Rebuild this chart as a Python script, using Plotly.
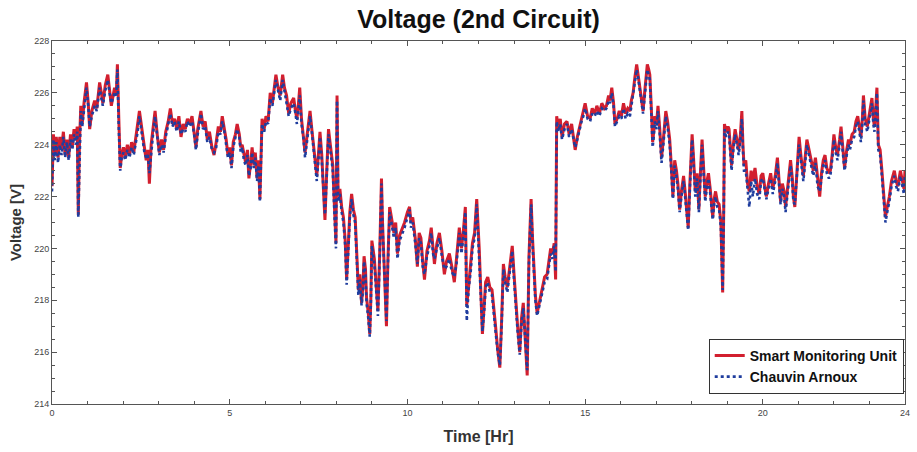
import plotly.graph_objects as go

hours = [
    0.00, 0.04, 0.08, 0.12, 0.17, 0.22, 0.27, 0.32, 0.37, 0.42,
    0.47, 0.52, 0.57, 0.62, 0.67, 0.71, 0.74, 0.77, 0.81, 0.85,
    0.90, 0.97, 1.02, 1.06, 1.12, 1.20, 1.26, 1.34, 1.40, 1.43,
    1.50, 1.57, 1.62, 1.67, 1.72, 1.76, 1.81, 1.84, 1.88, 1.92,
    1.96, 2.01, 2.06, 2.12, 2.18, 2.24, 2.30, 2.36, 2.41, 2.46,
    2.51, 2.55, 2.60, 2.65, 2.70, 2.74, 2.79, 2.85, 2.90, 2.96,
    3.02, 3.08, 3.14, 3.20, 3.27, 3.33, 3.39, 3.45, 3.51, 3.57,
    3.63, 3.69, 3.75, 3.81, 3.87, 3.94, 4.00, 4.05, 4.10, 4.15,
    4.19, 4.25, 4.31, 4.37, 4.43, 4.50, 4.56, 4.62, 4.68, 4.74,
    4.79, 4.85, 4.90, 4.95, 5.00, 5.05, 5.10, 5.16, 5.21, 5.27,
    5.31, 5.35, 5.40, 5.45, 5.50, 5.54, 5.59, 5.63, 5.68, 5.72,
    5.77, 5.81, 5.85, 5.88, 5.91, 5.97, 6.02, 6.08, 6.14, 6.20,
    6.25, 6.30, 6.36, 6.42, 6.49, 6.54, 6.60, 6.66, 6.72, 6.80,
    6.85, 6.89, 6.93, 6.97, 7.02, 7.07, 7.12, 7.18, 7.22, 7.26,
    7.31, 7.36, 7.41, 7.45, 7.50, 7.54, 7.59, 7.64, 7.68, 7.73,
    7.78, 7.84, 7.90, 7.95, 7.99, 8.02, 8.05, 8.10, 8.15, 8.20,
    8.25, 8.29, 8.34, 8.38, 8.43, 8.48, 8.53, 8.58, 8.62, 8.66,
    8.71, 8.75, 8.78, 8.82, 8.85, 8.90, 8.94, 8.97, 9.00, 9.04,
    9.07, 9.12, 9.17, 9.22, 9.27, 9.30, 9.33, 9.37, 9.41, 9.45,
    9.50, 9.55, 9.62, 9.67, 9.72, 9.78, 9.86, 9.92, 10.00, 10.06,
    10.10, 10.15, 10.22, 10.28, 10.33, 10.38, 10.43, 10.48, 10.55, 10.62,
    10.67, 10.72, 10.76, 10.83, 10.90, 10.97, 11.04, 11.10, 11.18, 11.25,
    11.32, 11.38, 11.46, 11.52, 11.57, 11.63, 11.67, 11.72, 11.78, 11.83,
    11.89, 11.95, 12.02, 12.07, 12.11, 12.16, 12.20, 12.26, 12.32, 12.38,
    12.43, 12.48, 12.54, 12.60, 12.65, 12.70, 12.75, 12.81, 12.88, 12.95,
    13.00, 13.04, 13.10, 13.16, 13.21, 13.26, 13.31, 13.37, 13.42, 13.48,
    13.52, 13.55, 13.60, 13.65, 13.72, 13.79, 13.86, 13.93, 13.98, 14.03,
    14.08, 14.13, 14.17, 14.20, 14.25, 14.30, 14.35, 14.42, 14.49, 14.55,
    14.62, 14.68, 14.72, 14.78, 14.84, 14.90, 14.95, 15.00, 15.07, 15.14,
    15.20, 15.27, 15.33, 15.40, 15.47, 15.54, 15.60, 15.66, 15.70, 15.75,
    15.80, 15.84, 15.90, 15.96, 16.02, 16.08, 16.14, 16.20, 16.26, 16.30,
    16.35, 16.40, 16.45, 16.50, 16.54, 16.59, 16.63, 16.68, 16.72, 16.75,
    16.79, 16.82, 16.86, 16.90, 16.93, 16.96, 17.01, 17.05, 17.10, 17.15,
    17.20, 17.23, 17.27, 17.32, 17.38, 17.42, 17.47, 17.52, 17.57, 17.61,
    17.66, 17.71, 17.77, 17.82, 17.86, 17.90, 17.95, 18.01, 18.05, 18.10,
    18.15, 18.20, 18.24, 18.29, 18.33, 18.38, 18.43, 18.47, 18.52, 18.59,
    18.63, 18.67, 18.72, 18.77, 18.82, 18.87, 18.90, 18.92, 18.97, 19.02,
    19.05, 19.10, 19.12, 19.17, 19.22, 19.27, 19.32, 19.37, 19.41, 19.44,
    19.47, 19.52, 19.57, 19.62, 19.67, 19.72, 19.78, 19.84, 19.90, 19.95,
    20.00, 20.05, 20.10, 20.16, 20.22, 20.28, 20.35, 20.41, 20.45, 20.50,
    20.55, 20.60, 20.64, 20.70, 20.74, 20.78, 20.83, 20.86, 20.90, 20.95,
    21.00, 21.02, 21.07, 21.14, 21.19, 21.24, 21.30, 21.36, 21.42, 21.48,
    21.54, 21.60, 21.65, 21.70, 21.75, 21.80, 21.86, 21.90, 21.95, 22.00,
    22.05, 22.10, 22.16, 22.20, 22.25, 22.30, 22.36, 22.41, 22.45, 22.51,
    22.57, 22.62, 22.67, 22.72, 22.76, 22.80, 22.83, 22.88, 22.94, 23.00,
    23.07, 23.11, 23.14, 23.18, 23.21, 23.25, 23.30, 23.35, 23.40, 23.45,
    23.50, 23.56, 23.62, 23.70, 23.75, 23.80, 23.87, 23.92, 23.97, 24.00,
]

smart_unit_v = [
    222.4, 224.4, 223.6, 224.3, 223.5, 224.3, 223.8, 224.5, 223.6, 224.2,
    223.5, 224.4, 223.9, 224.6, 224.2, 224.7, 221.3, 223.9, 225.5, 224.8,
    225.6, 226.4, 225.6, 224.6, 225.3, 225.7, 225.4, 226.4, 225.9, 225.6,
    226.3, 226.7, 226.1, 225.5, 225.9, 226.2, 226.0, 227.1, 225.0, 223.1,
    223.6, 223.9, 223.5, 224.0, 223.6, 224.1, 223.7, 224.3, 224.6, 225.3,
    224.8, 224.4, 223.9, 223.4, 223.8, 222.5, 224.0, 224.6, 225.3, 224.4,
    223.7, 224.2, 223.8, 224.5, 224.9, 225.4, 224.8, 225.0, 224.6, 225.1,
    224.3, 224.8, 224.6, 225.0, 224.8, 225.1, 224.5, 223.9, 224.6, 225.0,
    225.3, 224.7, 224.9, 224.2, 224.5, 223.9, 223.6, 224.1, 224.7, 224.5,
    225.1, 224.6, 224.2, 223.6, 223.9, 223.2, 224.1, 224.4, 224.8, 224.4,
    223.9, 224.0, 223.6, 223.3, 223.8, 222.7, 223.3, 223.9, 223.2, 223.7,
    222.7, 223.4, 221.9, 223.6, 225.0, 224.6, 225.1, 224.9, 226.0, 225.6,
    226.2, 226.7, 226.2, 225.9, 226.7, 226.2, 225.9, 225.2, 225.6, 225.8,
    225.3, 225.0, 225.5, 226.2, 225.0, 224.4, 223.7, 224.4, 224.9, 225.3,
    224.6, 224.0, 223.4, 222.8, 223.7, 224.5, 223.6, 222.4, 221.1, 223.0,
    224.6, 223.9, 223.2, 221.5, 220.2, 225.9, 222.0, 222.3, 221.6, 221.2,
    220.3, 218.8, 220.5, 221.4, 222.1, 221.5, 221.2, 219.6, 218.4, 219.0,
    217.9, 218.6, 219.7, 219.2, 218.1, 217.5, 216.7, 218.0, 220.3, 219.9,
    219.6, 218.6, 217.6, 219.8, 222.7, 221.0, 220.0, 218.5, 217.0, 219.5,
    221.6, 221.2, 220.6, 221.0, 219.8, 220.5, 220.8, 221.0, 221.4, 221.6,
    221.0, 221.2, 220.4, 219.3, 220.6, 220.4, 219.5, 218.8, 219.9, 220.3,
    220.8, 220.0, 219.4, 220.2, 220.6, 219.9, 219.0, 219.5, 219.8, 219.3,
    218.7, 219.6, 220.8, 220.0, 220.6, 221.6, 217.8, 218.5, 219.3, 220.2,
    220.6, 221.9, 220.0, 218.2, 216.7, 217.8, 218.7, 218.9, 218.5, 218.4,
    217.8, 217.0, 216.1, 215.4, 217.2, 219.4, 218.9, 218.5, 219.3, 220.1,
    219.0, 218.1, 217.0, 216.0, 217.3, 217.9, 216.8, 215.1, 219.7, 221.9,
    220.4, 219.3, 218.2, 217.5, 218.0, 218.5, 218.9, 219.0, 219.6, 220.0,
    219.8, 220.2, 218.8, 225.1, 224.6, 225.0, 224.3, 224.8, 224.9, 224.4,
    224.8, 224.2, 223.8, 224.3, 224.7, 225.0, 225.3, 225.6, 225.1, 225.0,
    225.4, 225.2, 225.5, 225.2, 225.6, 225.4, 225.5, 225.9, 225.7, 226.2,
    225.6, 224.8, 225.0, 225.3, 225.1, 225.6, 225.2, 225.4, 225.3, 225.7,
    226.0, 226.6, 227.1, 226.6, 226.2, 225.8, 225.3, 226.1, 226.8, 227.1,
    226.9, 226.7, 225.5, 224.1, 224.5, 225.1, 224.8, 225.5, 224.6, 223.5,
    224.2, 224.8, 225.3, 224.9, 224.2, 223.3, 222.0, 223.4, 223.0, 222.5,
    221.5, 222.2, 222.8, 222.1, 221.4, 220.8, 222.6, 224.4, 223.5, 222.2,
    222.9, 221.5, 222.8, 224.2, 223.2, 222.0, 222.6, 222.9, 222.3, 221.2,
    221.9, 222.2, 221.8, 221.7, 221.0, 218.3, 221.5, 224.8, 224.5, 224.7,
    224.6, 223.6, 223.2, 224.0, 224.6, 224.2, 223.8, 224.4, 225.3, 224.0,
    223.2, 223.4, 222.5, 222.2, 223.0, 222.6, 223.1, 222.4, 222.1, 222.8,
    222.9, 222.4, 222.0, 222.5, 222.9, 222.3, 222.8, 223.5, 222.6, 221.8,
    222.5, 222.2, 221.6, 222.4, 222.8, 223.4, 222.7, 222.0, 221.6, 222.8,
    223.5, 224.3, 223.6, 222.8, 223.5, 224.2, 223.8, 223.4, 223.0, 223.5,
    222.6, 222.0, 222.9, 223.4, 223.6, 223.1, 222.9, 223.0, 223.6, 224.4,
    223.9, 223.6, 224.2, 224.7, 223.9, 223.1, 223.8, 224.2, 224.0, 224.4,
    224.5, 224.9, 225.1, 224.6, 224.3, 225.0, 225.9, 225.0, 224.7, 225.2,
    225.8, 225.0, 224.7, 225.5, 226.2, 224.0, 223.8, 223.0, 222.2, 221.2,
    221.6, 222.0, 222.6, 223.0, 222.6, 222.4, 223.0, 222.7, 222.3, 223.0,
]

chauvin_v = [
    222.2, 224.2, 223.4, 224.1, 223.3, 224.0, 223.6, 224.3, 223.5, 224.1,
    223.4, 224.2, 223.8, 224.4, 224.0, 224.5, 221.2, 223.7, 225.3, 224.7,
    225.4, 226.2, 225.5, 224.7, 225.1, 225.5, 225.3, 226.2, 225.7, 225.5,
    226.1, 226.5, 226.0, 225.6, 225.8, 226.0, 225.9, 226.9, 224.6, 223.0,
    223.5, 223.7, 223.4, 223.8, 223.5, 223.9, 223.6, 224.1, 224.5, 225.1,
    224.6, 224.3, 223.7, 223.5, 223.6, 222.9, 223.8, 224.5, 225.1, 224.3,
    223.6, 224.0, 223.7, 224.3, 224.8, 225.2, 224.7, 224.9, 224.5, 224.9,
    224.4, 224.6, 224.5, 224.9, 224.7, 224.9, 224.4, 223.8, 224.4, 224.8,
    225.2, 224.6, 224.7, 224.1, 224.3, 223.8, 223.7, 223.9, 224.5, 224.4,
    224.9, 224.5, 224.0, 223.5, 223.7, 223.1, 223.9, 224.3, 224.6, 224.3,
    223.7, 223.9, 223.4, 223.2, 223.6, 222.8, 223.1, 223.7, 223.1, 223.5,
    222.6, 223.2, 221.8, 223.4, 224.8, 224.5, 224.9, 224.8, 225.8, 225.5,
    226.0, 226.5, 226.1, 225.7, 226.5, 226.1, 225.7, 225.1, 225.4, 225.6,
    225.2, 224.8, 225.3, 225.9, 224.8, 224.3, 223.5, 224.2, 224.7, 225.1,
    224.5, 223.8, 223.2, 222.6, 223.5, 224.3, 223.4, 222.2, 221.3, 222.8,
    224.4, 223.7, 223.0, 221.2, 220.0, 225.7, 221.8, 222.1, 221.4, 221.0,
    220.1, 218.6, 220.3, 221.2, 221.9, 221.3, 221.0, 219.4, 218.2, 218.8,
    217.8, 218.4, 219.5, 219.0, 217.9, 217.3, 216.6, 217.8, 220.1, 219.7,
    219.4, 218.4, 217.4, 219.6, 222.5, 220.8, 219.8, 218.3, 217.2, 219.3,
    221.4, 221.0, 220.4, 220.8, 219.6, 220.3, 220.6, 220.8, 221.2, 221.5,
    220.8, 221.0, 220.2, 219.4, 220.4, 220.2, 219.3, 219.0, 219.7, 220.1,
    220.6, 219.8, 219.6, 220.0, 220.4, 219.7, 219.2, 219.3, 219.6, 219.1,
    218.9, 219.4, 220.6, 219.8, 220.4, 221.4, 217.2, 218.4, 219.1, 220.0,
    220.4, 221.7, 219.8, 218.0, 216.8, 217.6, 218.5, 218.7, 218.3, 218.2,
    217.6, 216.8, 216.0, 215.5, 217.0, 219.2, 218.7, 218.3, 219.1, 219.9,
    218.8, 217.9, 216.8, 215.9, 217.1, 217.7, 216.6, 215.3, 219.5, 221.7,
    220.2, 219.1, 218.0, 217.4, 217.8, 218.3, 218.7, 218.8, 219.4, 219.8,
    219.6, 220.1, 219.1, 224.9, 224.5, 224.8, 224.2, 224.6, 224.8, 224.3,
    224.6, 224.1, 223.9, 224.2, 224.6, 224.9, 225.1, 225.4, 225.0, 224.9,
    225.2, 225.1, 225.3, 225.1, 225.4, 225.3, 225.4, 225.7, 225.6, 226.0,
    225.5, 224.7, 224.9, 225.1, 225.0, 225.4, 225.0, 225.2, 225.1, 225.5,
    225.8, 226.4, 226.9, 226.5, 226.0, 225.6, 225.2, 225.9, 226.6, 226.9,
    226.7, 226.5, 225.3, 223.9, 224.3, 224.9, 224.6, 225.3, 224.4, 223.3,
    224.0, 224.6, 225.1, 224.7, 224.0, 223.1, 221.9, 223.2, 222.8, 222.3,
    221.4, 222.0, 222.6, 221.9, 221.2, 220.7, 222.4, 224.2, 223.3, 222.0,
    222.7, 221.4, 222.6, 224.0, 223.0, 221.8, 222.4, 222.7, 222.1, 221.1,
    221.7, 222.0, 221.6, 221.5, 220.8, 218.4, 221.3, 224.6, 224.3, 224.5,
    224.4, 223.4, 223.0, 223.8, 224.4, 224.0, 223.6, 224.2, 225.0, 223.8,
    223.0, 223.0, 222.2, 221.6, 222.6, 222.0, 222.7, 222.1, 221.9, 222.6,
    222.7, 222.2, 221.9, 222.3, 222.7, 222.1, 222.6, 223.3, 222.4, 221.7,
    222.3, 222.0, 221.4, 222.2, 222.6, 223.2, 222.5, 221.8, 221.7, 222.6,
    223.3, 224.0, 223.4, 222.6, 223.3, 224.0, 223.6, 223.2, 222.8, 223.3,
    222.4, 222.2, 222.7, 223.2, 223.4, 222.9, 222.7, 222.8, 223.4, 224.2,
    223.7, 223.4, 224.0, 224.5, 223.7, 223.0, 223.6, 224.0, 223.8, 224.2,
    224.3, 224.7, 224.9, 224.4, 224.1, 224.8, 225.7, 224.8, 224.5, 225.0,
    225.6, 224.8, 224.5, 225.3, 226.0, 223.8, 223.6, 222.8, 222.0, 221.0,
    221.4, 221.8, 222.4, 222.8, 222.4, 222.2, 222.8, 222.5, 222.1, 222.8,
]

x_tick_vals = [0, 5, 10, 15, 20, 24]
y_tick_vals = [214, 216, 218, 220, 222, 224, 226, 228]

FONT = "Liberation Sans, Arial, sans-serif"
AXIS_COLOR = "#555555"

fig = go.Figure()
fig.add_trace(go.Scatter(
    x=hours, y=smart_unit_v, mode="lines", name="<b>Smart Monitoring Unit</b>",
    line=dict(color="#d21f2f", width=3),
))
fig.add_trace(go.Scatter(
    x=hours, y=chauvin_v, mode="lines", name="<b>Chauvin Arnoux</b>",
    line=dict(color="#1f3d9e", width=2.6, dash="dot"),
))

axis_common = dict(
    showgrid=False, zeroline=False, showline=True, linecolor=AXIS_COLOR,
    linewidth=1, mirror="ticks", ticks="inside", ticklen=5,
    tickcolor=AXIS_COLOR, tickfont=dict(family=FONT, size=9, color="#444444"),
)

fig.update_xaxes(
    range=[0, 24], tickvals=x_tick_vals, ticktext=[str(v) for v in x_tick_vals],
    minor=dict(dtick=1, ticks="inside", ticklen=3, tickcolor=AXIS_COLOR),
    title=dict(text="<b>Time [Hr]</b>", font=dict(family=FONT, size=16, color="#333333"), standoff=14),
    **axis_common,
)
fig.update_yaxes(
    range=[214, 228], tickvals=y_tick_vals, ticktext=[str(v) for v in y_tick_vals],
    minor=dict(dtick=0.5, ticks="inside", ticklen=3, tickcolor=AXIS_COLOR),
    title=dict(text="<b>Voltage [V]</b>", font=dict(family=FONT, size=15, color="#333333"), standoff=8),
    **axis_common,
)

fig.update_layout(
    width=917, height=452,
    margin=dict(l=52, r=7, t=41, b=48),
    paper_bgcolor="white", plot_bgcolor="white",
    title=dict(text="<b>Voltage (2nd Circuit)</b>", x=0.5, xref="paper",
               y=1 - 19 / 452, yanchor="middle",
               font=dict(family=FONT, size=25, color="#111111")),
    legend=dict(x=0.9985, y=0.028, xanchor="right", yanchor="bottom",
                bgcolor="white", bordercolor="#333333", borderwidth=1,
                font=dict(family=FONT, size=14, color="#111111"),
                tracegroupgap=0, itemwidth=30),
    font=dict(family=FONT),
    showlegend=True,
)

fig.write_html("out.html")
